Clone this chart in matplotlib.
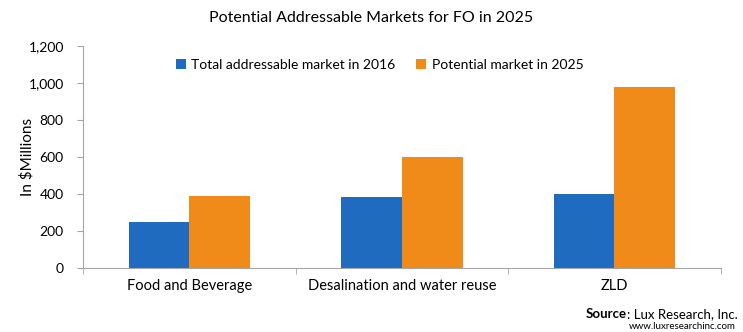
import matplotlib.pyplot as plt
import numpy as np

plt.rcParams['font.family'] = ['Lato', 'DejaVu Sans']

categories = ['Food and Beverage', 'Desalination and water reuse', 'ZLD']
market_2016 = [250, 385, 400]
market_2025 = [390, 600, 980]
yticks = [0, 200, 400, 600, 800, 1000, 1200]

blue = '#1f6bbf'
orange = '#f08a18'
grey = '#a6a6a6'

fig = plt.figure(figsize=(7.43, 3.32), dpi=100)
ax = fig.add_axes([0.112, 0.193, 0.858, 0.668])

x = np.arange(len(categories))
w = 0.285
ax.bar(x - w/2, market_2016, w, color=blue, label='Total addressable market in 2016')
ax.bar(x + w/2, market_2025, w, color=orange, label='Potential market in 2025')

ax.set_xlim(-0.5, 2.5)
ax.set_ylim(0, 1200)
ax.set_yticks(yticks)
ax.set_yticklabels(['{:,}'.format(v) for v in yticks], fontsize=10)
ax.set_xticks(x)
ax.set_xticklabels(categories, fontsize=10.5)
ax.set_xticks([-0.5, 0.5, 1.5, 2.5], minor=True)
ax.tick_params(axis='x', which='major', length=0, pad=8)
ax.tick_params(axis='x', which='minor', length=4, color=grey)
ax.tick_params(axis='y', length=4, color=grey, pad=10)

for s in ['top', 'right']:
    ax.spines[s].set_visible(False)
ax.spines['left'].set_color(grey)
ax.spines['bottom'].set_color(grey)

ax.set_ylabel(r'In \$Millions', fontsize=11)
ax.yaxis.set_label_coords(-0.076, 0.5)

ax.legend(loc='upper center', bbox_to_anchor=(0.465, 1.0), ncol=2, frameon=False,
          fontsize=10, handlelength=0.7, handleheight=0.7, columnspacing=1.5,
          handletextpad=0.4)

fig.text(0.5, 0.945, 'Potential Addressable Markets for FO in 2025', ha='center',
         va='center', fontsize=11.5)
rest = fig.text(0.993, 0.054, ': Lux Research, Inc.', ha='right', va='center',
                fontsize=9.5)
ax.annotate('Source', xy=(0, 0), xycoords=rest, ha='right', va='bottom',
            fontsize=9.5, fontweight='bold', annotation_clip=False)
fig.text(0.99, 0.018, 'www.luxresearchinc.com', ha='right', va='center', fontsize=7)

fig.savefig('out.png', dpi=100)
